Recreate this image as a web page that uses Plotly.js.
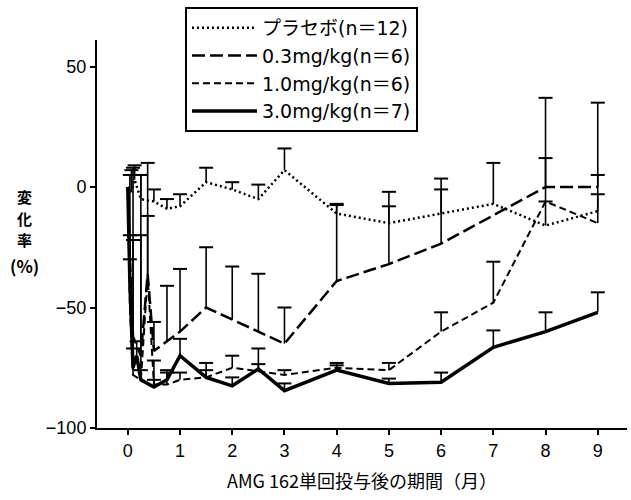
<!DOCTYPE html>
<html>
<head>
<meta charset="utf-8">
<script src="https://cdn.plot.ly/plotly-3.0.1.min.js"></script>
<style>html,body{margin:0;padding:0;background:#fff;}#chart{width:631px;height:500px;}</style>
</head>
<body>
<div id="chart"></div>
<script>
// Series names
const names = ["プラセボ(n＝12)", "0.3mg/kg(n＝6)", "1.0mg/kg(n＝6)", "3.0mg/kg(n＝7)"];

// Placebo
const tPlacebo = [0, 0.07, 0.13, 0.25, 0.5, 0.75, 1, 1.5, 2, 2.5, 3, 4, 5, 6, 7, 8, 9];
const yPlacebo = [0, -2, 3, -5, -6, -9, -8, 2, -1, -5, 7, -11, -15, -11, -7, -16, -10];
const ePlacebo = [0, 9, 6, 10, 5, 4, 5, 6, 3, 6, 9, 3.5, 7, 10, 17, 10, 7];

// 0.3 mg/kg
const t03 = [0, 0.04, 0.1, 0.25, 0.38, 0.5, 0.75, 1, 1.5, 2, 2.5, 3, 4, 5, 6, 8, 9];
const y03 = [0, -30, -62, -70, -36, -68, -64, -60, -50, -55, -60, -65, -39, -32, -23.5, 0, 0];
const e03 = [0, 35, 70, 75, 46, 12, 23, 26, 25, 22, 24, 15, 32, 30, 27, 37, 35];

// 1.0 mg/kg
const t10 = [0, 0.04, 0.1, 0.25, 0.38, 0.5, 0.75, 1, 1.5, 2, 2.5, 3, 4, 5, 6, 7, 8, 9];
const y10 = [0, -50, -78, -80, -37, -82, -82, -80, -79, -75, -76.5, -78, -75, -76, -60, -48, -6, -15];
const e10 = [0, 30, 56, 60, 25, 10, 5, 3, 6, 5, 3, 2, 2, 3, 8, 17, 18, 20];

// 3.0 mg/kg
const t30 = [0, 0.04, 0.1, 0.17, 0.25, 0.5, 0.75, 1, 1.5, 2, 2.5, 3, 4, 5, 6, 7, 8, 9];
const y30 = [0, -40, -75, -70, -80, -83, -80, -70, -79, -82.5, -75.5, -84.5, -76, -81.5, -81, -66.5, -60, -52];
const e30 = [0, 10, 8, 6, 4, 3, 4, 7, 3, 3.5, 8.5, 3, 2, 2, 4, 7, 8, 8.3];

// Axis ticks
const xTicks = [0, 1, 2, 3, 4, 5, 6, 7, 8, 9];
const yTicks = [-100, -50, 0, 50];
const yTickText = ["−100", "−50", "0", "50"];
const yTitleChars = ["変", "化", "率", "(%)"];

const series = [
  {name: names[0], t: tPlacebo, y: yPlacebo, e: ePlacebo, dash: "2px,3px", w: 2.5},
  {name: names[1], t: t03, y: y03, e: e03, dash: "13px,5px", w: 2.5},
  {name: names[2], t: t10, y: y10, e: e10, dash: "7px,4px", w: 2},
  {name: names[3], t: t30, y: y30, e: e30, dash: "solid", w: 3.5}
];

const traces = [];
series.forEach(s => {
  const bx = [], by = [], cx = [], cy = [];
  s.t.forEach((t, i) => {
    if (s.e[i] > 0) {
      bx.push(t, t, null);
      by.push(s.y[i], s.y[i] + s.e[i], null);
      cx.push(t);
      cy.push(s.y[i] + s.e[i]);
    }
  });
  traces.push({x: bx, y: by, mode: "lines", line: {color: "#000", width: 1.6}, showlegend: false, hoverinfo: "skip"});
  traces.push({x: cx, y: cy, mode: "markers", marker: {symbol: "line-ew", size: 10, line: {color: "#000", width: 2}}, showlegend: false, hoverinfo: "skip"});
});
series.forEach(s => {
  traces.push({x: s.t, y: s.y, name: s.name, mode: "lines", line: {color: "#000", width: s.w, dash: s.dash}});
});

const FONT = '"Liberation Sans", "Noto Sans CJK JP", sans-serif';
const LFONT = '"DejaVu Sans", "Noto Sans CJK JP", sans-serif';
const CJK = '"Noto Sans CJK JP", sans-serif';

const annotations = yTitleChars.map((c, i) => ({
  text: c, xref: "paper", yref: "paper",
  x: -0.136, y: (428 - (196 + i * 22 + (i === 3 ? 3 : 0))) / 388,
  xanchor: "center", yanchor: "middle", showarrow: false,
  font: {family: CJK, size: i === 3 ? 17 : 15, color: "#000", weight: "bold"}
}));

const layout = {
  width: 631, height: 500,
  margin: {l: 97, r: 4, t: 40, b: 72},
  paper_bgcolor: "#fff", plot_bgcolor: "#fff",
  font: {family: FONT, size: 17, color: "#000"},
  showlegend: true,
  legend: {
    x: 0.166, y: 1.085, xanchor: "left", yanchor: "top",
    bordercolor: "#000", borderwidth: 2, bgcolor: "#fff",
    font: {family: LFONT, size: 19, color: "#000"},
    itemwidth: 65, tracegroupgap: 0
  },
  xaxis: {
    range: [-0.59, 9.56], tickvals: xTicks, ticktext: xTicks.map(String),
    showline: true, linecolor: "#000", linewidth: 2, showgrid: false, zeroline: false,
    ticks: "outside", ticklen: 5, tickwidth: 2, tickcolor: "#000",
    tickfont: {family: FONT, size: 18},
    title: {text: "AMG 162単回投与後の期間（月）", font: {family: CJK, size: 18}, standoff: 16}
  },
  yaxis: {
    range: [-100, 61], tickvals: yTicks, ticktext: yTickText,
    showline: true, linecolor: "#000", linewidth: 2, showgrid: false, zeroline: false,
    ticks: "outside", ticklen: 5, tickwidth: 2, tickcolor: "#000",
    tickfont: {family: FONT, size: 18}
  },
  annotations: annotations
};

Plotly.newPlot("chart", traces, layout, {displayModeBar: false, staticPlot: true});
</script>
</body>
</html>
